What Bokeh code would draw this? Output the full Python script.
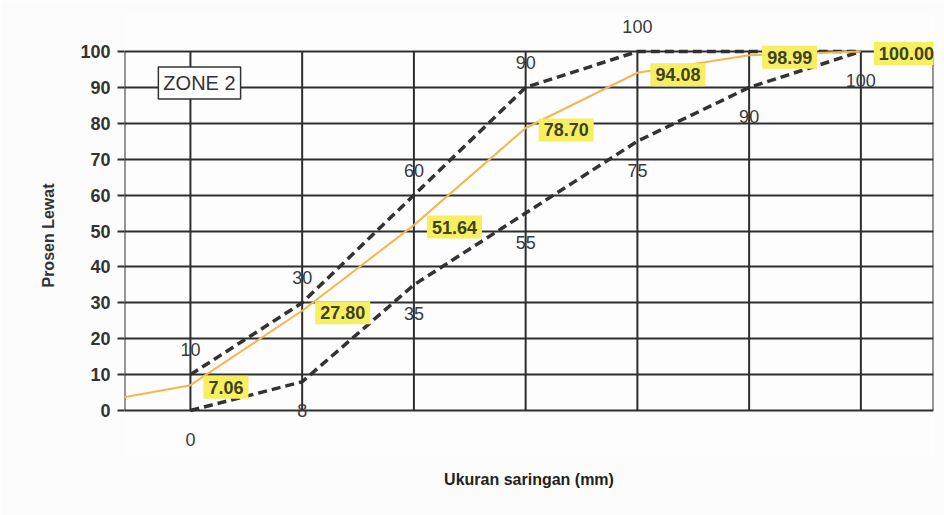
from bokeh.plotting import figure
from bokeh.models import ColumnDataSource, LabelSet, FixedTicker, Label, Range1d
from bokeh.core.properties import value
from bokeh.embed import file_html
from bokeh.resources import INLINE

# ---- data ----
sieve_pos = [0, 1, 2, 3, 4, 5, 6]
lower_limit = [0, 8, 35, 55, 75, 90, 100]
upper_limit = [10, 30, 60, 90, 100, 100, 100]
lead_pos = [-1]
lead_passing = [1.4]
passing = [7.06, 27.80, 51.64, 78.70, 94.08, 98.99, 100.00]
y_ticks = [0, 10, 20, 30, 40, 50, 60, 70, 80, 90, 100]

FONT = "Liberation Sans"
GRID = "#2e2e2e"
X_LO, X_HI = -0.59, 6.65
Y_LO, Y_HI = 0, 100

# frame is taller than the plot area so labels outside 0..100 are not clipped
p = figure(width=944, height=515,
           x_range=Range1d(X_LO, X_HI), y_range=Range1d(-12.81, 110.31),
           output_backend="svg", toolbar_location=None,
           min_border_left=124, min_border_right=11,
           min_border_top=14, min_border_bottom=59)

p.background_fill_color = "#fdfdfd"
p.border_fill_color = "#fcfcfc"
p.outline_line_color = None

# horizontal grid (spans frame width = plot area width)
p.ygrid.ticker = FixedTicker(ticks=y_ticks)
p.ygrid.grid_line_color = GRID
p.ygrid.grid_line_width = 2
p.ygrid.grid_line_alpha = 1
p.xgrid.grid_line_color = None

# vertical grid lines and side borders of the plot area
vx = [X_LO] + sieve_pos + [X_HI]
p.segment(x0=vx, y0=[Y_LO] * len(vx), x1=vx, y1=[Y_HI] * len(vx),
          line_color=GRID, line_width=2, level="underlay")

# axes
p.yaxis.ticker = FixedTicker(ticks=y_ticks)
p.yaxis.axis_line_color = None
p.yaxis.major_tick_out = 7
p.yaxis.major_tick_in = 0
p.yaxis.major_tick_line_color = GRID
p.yaxis.major_tick_line_width = 2
p.yaxis.minor_tick_line_color = None
p.yaxis.major_label_text_font = FONT
p.yaxis.major_label_text_font_style = "bold"
p.yaxis.major_label_text_font_size = "18px"
p.yaxis.major_label_text_color = "#333333"
p.yaxis.major_label_standoff = 7
p.yaxis.axis_label = "Prosen Lewat"
p.yaxis.axis_label_text_font = FONT
p.yaxis.axis_label_text_font_style = "bold"
p.yaxis.axis_label_text_font_size = "16px"
p.yaxis.axis_label_text_color = "#333333"
p.yaxis.axis_label_standoff = 20

p.xaxis.ticker = FixedTicker(ticks=[])
p.xaxis.axis_line_color = None
p.xaxis.major_tick_line_color = None
p.xaxis.minor_tick_line_color = None
p.xaxis.major_label_standoff = 0
p.xaxis.axis_label = "Ukuran saringan (mm)"
p.xaxis.axis_label_text_font = FONT
p.xaxis.axis_label_text_font_style = "bold"
p.xaxis.axis_label_text_font_size = "16px"
p.xaxis.axis_label_text_color = "#222222"
p.xaxis.axis_label_standoff = 14

# limit lines (drawn beneath the grid)
low_src = ColumnDataSource(dict(x=sieve_pos, y=lower_limit, t=[str(v) for v in lower_limit]))
up_src = ColumnDataSource(dict(x=sieve_pos, y=upper_limit))
up_lab_src = ColumnDataSource(dict(x=sieve_pos[:5], y=upper_limit[:5],
                                   t=[str(v) for v in upper_limit[:5]]))
p.line("x", "y", source=low_src, line_color="#333333", line_width=3.5,
       line_dash="9 5", level="image")
p.line("x", "y", source=up_src, line_color="#333333", line_width=3.5,
       line_dash="9 5", level="image")

# passing line
orange_src = ColumnDataSource(dict(x=lead_pos + sieve_pos, y=lead_passing + passing))
p.line("x", "y", source=orange_src, line_color="#f5b650", line_width=2)

lab_kw = dict(text_font=value(FONT), text_font_size=value("18px"), text_color="#3a3a3a",
              text_align="center", text_baseline="middle")
p.text(x="x", y="y", text="t", source=low_src, y_offset=29, **lab_kw)
p.text(x="x", y="y", text="t", source=up_lab_src, y_offset=-25, **lab_kw)

pass_src = ColumnDataSource(dict(x=sieve_pos, y=passing, t=["%.2f" % v for v in passing]))
tkw = dict(x="x", y="y", text="t", source=pass_src, x_offset=13, y_offset=2,
           text_font=value(FONT), text_font_size=value("18px"), text_font_style="bold",
           text_color="#40421e", text_align="left", text_baseline="middle")
try:
    p.text(background_fill_color="#f7ef62", padding=5, **tkw)
except Exception:
    p.add_layout(LabelSet(x="x", y="y", text="t", source=pass_src, x_offset=16, y_offset=-1,
                          text_font=value(FONT), text_font_size=value("18px"),
                          text_font_style="bold", text_color="#40421e", text_align="left",
                          text_baseline="middle", background_fill_color="#f7ef62"))

zone_kw = dict(x=-0.287, y=91.2, text="ZONE 2", text_font=FONT, text_font_size="20px",
               text_color="#333333", text_align="left", text_baseline="middle",
               background_fill_color="#ffffff", border_line_color="#333333",
               border_line_width=1.5)
try:
    p.add_layout(Label(padding=5, **zone_kw))
except Exception:
    p.add_layout(Label(**zone_kw))

open("out.html", "w").write(file_html(p, INLINE))
